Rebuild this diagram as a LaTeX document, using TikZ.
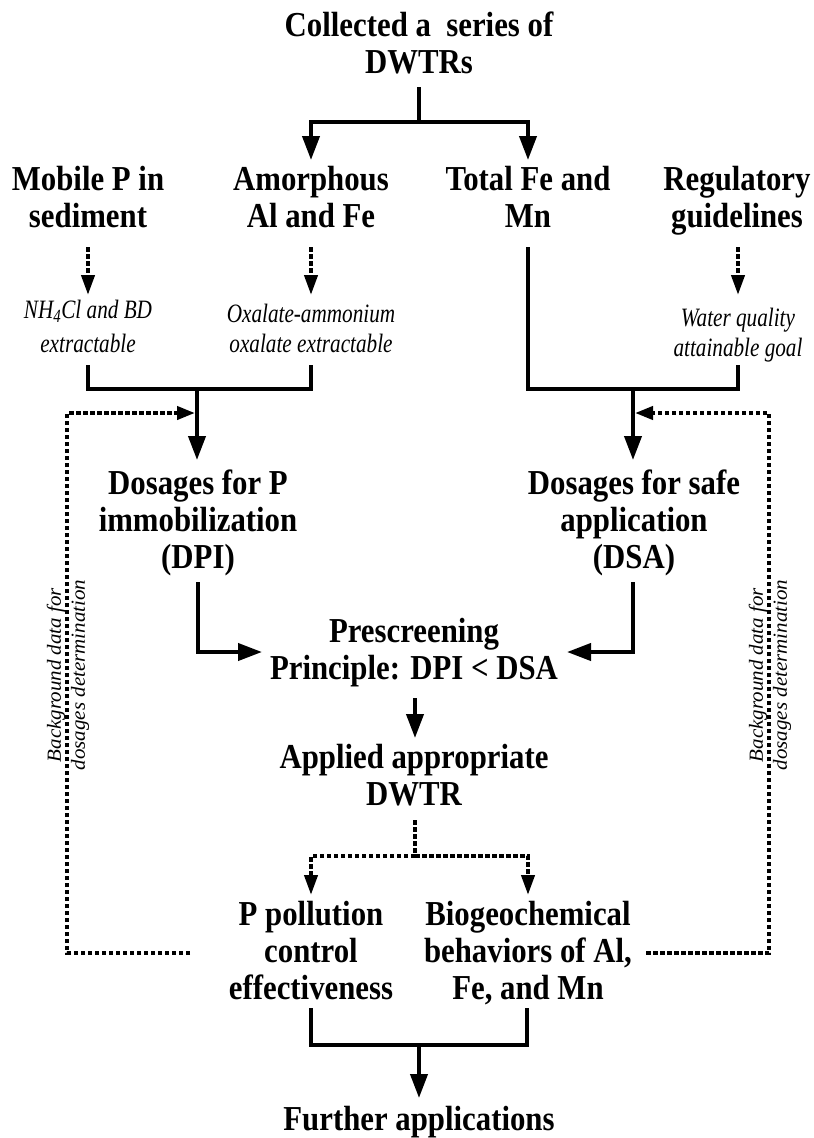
\documentclass[tikz,border=0pt]{standalone}
\usepackage{fontspec}
\setmainfont{Liberation Serif}[FakeStretch=0.88]
\newfontfamily\itfam{Liberation Serif}[FakeStretch=0.8]
\newfontfamily\sidefam{Liberation Serif}[FakeStretch=1.05]
\usetikzlibrary{arrows.meta}
\begin{document}
\begin{tikzpicture}[x=1pt,y=-1pt,
  boldtxt/.style={font=\fontsize{35}{37}\selectfont\bfseries, align=center, anchor=north, inner sep=0pt},
  itxt/.style={font=\itfam\fontsize{26.5}{34}\selectfont\itshape, align=center, anchor=north, inner sep=0pt},
  itxtb/.style={font=\itfam\fontsize{26.5}{30}\selectfont\itshape, align=center, anchor=north, inner sep=0pt},
  sidetxt/.style={font=\sidefam\fontsize{20}{24}\selectfont\itshape, align=center, rotate=90, inner sep=0pt},
  ln/.style={line width=4pt},
  arr/.style={ln, -{Triangle[length=24pt,width=17pt]}},
  dsh/.style={line width=4pt, dash pattern=on 4.5pt off 2.5pt},
  darr/.style={dsh, -{Triangle[length=20pt,width=13pt]}},
  fbarr/.style={dsh, -{Triangle[length=18pt,width=13pt]}}
]
\useasboundingbox[fill=white] (0,0) rectangle (814,1138);

% text nodes
\node[boldtxt] (title) at (419,12) {Collected a\ \ series of\\DWTRs};
\node[boldtxt] (mobile) at (88,166) {Mobile P in\\sediment};
\node[boldtxt] (amorph) at (311,166) {Amorphous\\Al and Fe};
\node[boldtxt] (totalfe) at (528,166) {Total Fe and\\Mn};
\node[boldtxt] (reg) at (737,166) {Regulatory\\guidelines};
\node[itxt] (nh4) at (88,300) {NH\textsubscript{4}Cl and BD\\extractable};
\node[itxtb] (oxal) at (311,304) {Oxalate-ammonium\\oxalate extractable};
\node[itxtb] (water) at (738,308) {Water quality\\attainable goal};
\node[boldtxt] (dpi) at (198,470) {Dosages for P\\immobilization\\(DPI)};
\node[boldtxt] (dsa) at (634,470) {Dosages for safe\\application\\(DSA)};
\node[boldtxt] (presc) at (414,618) {Prescreening\\Principle: DPI < DSA};
\node[boldtxt] (applied) at (414,744) {Applied appropriate\\DWTR};
\node[boldtxt] (ppoll) at (311,901) {P pollution\\control\\effectiveness};
\node[boldtxt] (bio) at (528,901) {Biogeochemical\\behaviors of Al,\\Fe, and Mn};
\node[boldtxt] (further) at (419,1106) {Further applications};
\node[sidetxt] (lblL) at (68,675) {Background data for\\dosages determination};
\node[sidetxt] (lblR) at (770,675) {Background data for\\dosages determination};

% junction coordinates
\coordinate (tA) at (419,87);
\coordinate (tJ) at (419,122);
\coordinate (amIn) at (311,160);
\coordinate (feIn) at (528,160);
\coordinate (moOut) at (88,247);
\coordinate (nhIn) at (88,295);
\coordinate (amOut) at (311,247);
\coordinate (oxIn) at (311,295);
\coordinate (reOut) at (738,247);
\coordinate (waIn) at (738,295);
\coordinate (feOut) at (528,247);
\coordinate (nhOut) at (88,365);
\coordinate (oxOut) at (311,365);
\coordinate (waOut) at (738,365);
\coordinate (lJ) at (197,389);
\coordinate (rJ) at (633,389);
\coordinate (dpiIn) at (197,460);
\coordinate (dsaIn) at (633,460);
\coordinate (dpiOut) at (198,582);
\coordinate (dsaOut) at (633,582);
\coordinate (prL) at (262,652);
\coordinate (prR) at (567,652);
\coordinate (prOut) at (415,698);
\coordinate (apIn) at (415,738);
\coordinate (apOut) at (415,820);
\coordinate (apJ) at (415,856);
\coordinate (ppIn) at (311,895);
\coordinate (bioIn) at (528,895);
\coordinate (ppOut) at (311,1008);
\coordinate (bioOut) at (527,1008);
\coordinate (bJ) at (419,1045);
\coordinate (fuIn) at (419,1098);
\coordinate (ppFb) at (190,953);
\coordinate (bioFb) at (646,953);
\coordinate (lFbIn) at (195,413);
\coordinate (rFbIn) at (635,413);

% solid connectors
\draw[ln] (tA) -- (tJ);
\draw[arr] (tJ) -| (amIn);
\draw[arr] (tJ) -| (feIn);
\draw[ln] (nhOut) |- (lJ) -| (oxOut);
\draw[arr] (lJ) -- (dpiIn);
\draw[ln] (feOut) |- (rJ) -| (waOut);
\draw[arr] (rJ) -- (dsaIn);
\draw[arr] (dpiOut) |- (prL);
\draw[arr] (dsaOut) |- (prR);
\draw[arr] (prOut) -- (apIn);
\draw[ln] (ppOut) |- (bJ) -| (bioOut);
\draw[arr] (bJ) -- (fuIn);

% dashed connectors
\draw[darr] (moOut) -- (nhIn);
\draw[darr] (amOut) -- (oxIn);
\draw[darr] (reOut) -- (waIn);
\draw[dsh] (apOut) -- (apJ);
\draw[darr] (apJ) -| (ppIn);
\draw[darr] (apJ) -| (bioIn);
\draw[fbarr] (ppFb) -- (67,953) -- (67,413) -- (lFbIn);
\draw[fbarr] (bioFb) -- (769,953) -- (769,413) -- (rFbIn);
\end{tikzpicture}
\end{document}
